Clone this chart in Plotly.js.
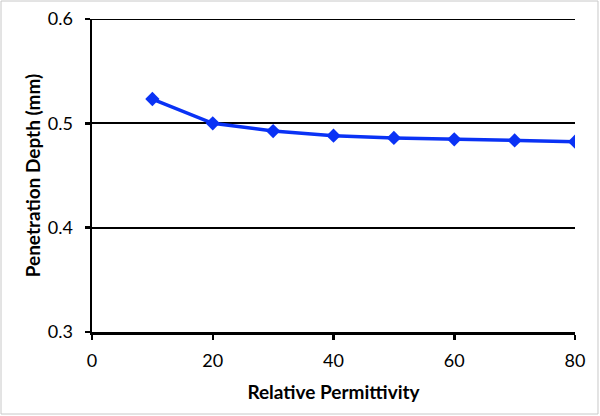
<!DOCTYPE html>
<html>
<head>
<meta charset="utf-8">
<script src="https://cdn.plot.ly/plotly-3.0.1.min.js"></script>
<style>html,body{margin:0;padding:0;background:#fff;}#chart{width:600px;height:416px;}</style>
</head>
<body>
<div id="chart"></div>
<script>
const permittivity = [10, 20, 30, 40, 50, 60, 70, 80];
const depthMm = [0.5233, 0.5000, 0.4926, 0.4882, 0.4860, 0.4847, 0.4836, 0.4824];
const xTicks = [0, 20, 40, 60, 80];
const yTicks = [0.3, 0.4, 0.5, 0.6];

const trace = {
  x: permittivity,
  y: depthMm,
  type: 'scatter',
  mode: 'lines+markers',
  line: {color: '#0a32f5', width: 3.5},
  marker: {symbol: 'diamond', size: 11, color: '#0a32f5'},
  hoverinfo: 'skip'
};

const fam = 'Lato, "Open Sans", sans-serif';
const yTop = yTicks[yTicks.length - 1];

const layout = {
  width: 600, height: 416,
  margin: {l: 92, r: 25, t: 19, b: 84},
  paper_bgcolor: '#fff', plot_bgcolor: '#fff',
  showlegend: false,
  font: {family: fam, color: '#000'},
  xaxis: {
    range: [0, 80], tickvals: xTicks, ticktext: xTicks.map(String),
    showgrid: false, zeroline: false,
    showline: true, linecolor: '#000', linewidth: 2.5,
    ticks: 'outside', ticklen: 5, tickwidth: 2.5, tickcolor: '#000',
    ticklabelstandoff: 6,
    tickfont: {family: fam, size: 18, color: '#000'},
    title: {text: '<b>Relative Permittivity</b>', font: {family: fam, size: 19, color: '#000'}, standoff: 16}
  },
  yaxis: {
    range: [0.3, yTop], tickvals: yTicks, ticktext: yTicks.map(v => v.toFixed(1)),
    showgrid: true, gridcolor: '#000', gridwidth: 2,
    zeroline: false,
    showline: true, linecolor: '#000', linewidth: 2.5,
    ticks: 'outside', ticklen: 5, tickwidth: 2.5, tickcolor: '#000',
    ticklabelstandoff: 8,
    tickfont: {family: fam, size: 18, color: '#000'},
    title: {text: '<b>Penetration Depth (mm)</b>', font: {family: fam, size: 19, color: '#000'}, standoff: 2}
  },
  shapes: [
    {
      type: 'line', xref: 'paper', yref: 'y',
      x0: 0, x1: 1, y0: yTop, y1: yTop,
      line: {color: '#000', width: 2}, layer: 'below'
    },
    {
      type: 'rect', xref: 'paper', yref: 'paper',
      x0: -0.1884, x1: 1.0476, y0: -0.262, y1: 1.0575,
      line: {color: '#c8c8c8', width: 1}, layer: 'below'
    }
  ]
};

Plotly.newPlot('chart', [trace], layout, {displayModeBar: false, staticPlot: true});
</script>
</body>
</html>
